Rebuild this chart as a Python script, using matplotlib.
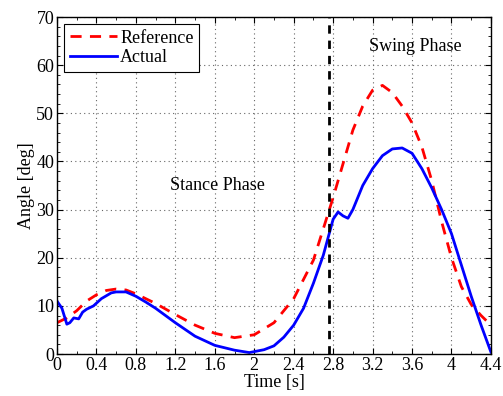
import numpy as np
import matplotlib
matplotlib.use("Agg")
import matplotlib.pyplot as plt
from matplotlib.ticker import MultipleLocator, FuncFormatter

plt.rcParams['font.family'] = ['Liberation Serif', 'DejaVu Serif']

# reference trajectory
t_ref = [0, 0.1, 0.2, 0.3, 0.4, 0.5, 0.6, 0.7, 0.8, 1.0, 1.2, 1.4, 1.6, 1.8,
         2.0, 2.2, 2.4, 2.6, 2.8, 3.0, 3.1, 3.2, 3.3, 3.4, 3.5, 3.6, 3.7,
         3.8, 3.9, 4.0, 4.1, 4.2, 4.3, 4.4]
ang_ref = [6.5, 7.5, 9.0, 11.0, 12.3, 13.2, 13.5, 13.3, 12.5, 10.5, 8.2, 6.0,
           4.3, 3.4, 4.0, 6.5, 11.5, 19.5, 32.5, 46.5, 51.5, 54.8, 55.8, 54.3,
           51.5, 48.0, 43.0, 36.0, 27.5, 20.0, 14.0, 10.3, 8.0, 6.0]

# measured trajectory
t_act = [0, 0.05, 0.1, 0.13, 0.17, 0.22, 0.26, 0.3, 0.37, 0.45, 0.55, 0.6,
         0.7, 0.8, 0.9, 1.0, 1.2, 1.4, 1.6, 1.8, 1.95, 2.1, 2.2, 2.3, 2.4,
         2.5, 2.6, 2.7, 2.8, 2.85, 2.9, 2.95, 3.0, 3.1, 3.2, 3.3, 3.4, 3.5,
         3.6, 3.7, 3.8, 3.9, 4.0, 4.1, 4.2, 4.3, 4.4]
ang_act = [11.0, 9.5, 6.2, 6.5, 7.5, 7.3, 8.7, 9.3, 10.0, 11.5, 12.7, 12.9,
           12.9, 12.0, 10.8, 9.5, 6.5, 3.7, 1.8, 0.8, 0.3, 0.9, 1.7, 3.5, 6.0,
           9.5, 14.7, 20.5, 28.0, 29.5, 28.7, 28.2, 30.0, 35.0, 38.5, 41.2,
           42.6, 42.8, 41.7, 38.5, 34.5, 30.0, 25.0, 18.5, 12.0, 6.0, 0.4]

t_switch = 2.76

fig = plt.figure(figsize=(5.03, 3.96), dpi=100)
ax = fig.add_axes([0.1133, 0.106, 0.8627, 0.851])

ax.plot(t_ref, ang_ref, 'r--', lw=2, dashes=(4, 3), label='Reference')
ax.plot(t_act, ang_act, 'b-', lw=2, label='Actual')
ax.axvline(t_switch, color='k', ls='--', lw=2, dashes=(3, 2.5))

ax.text(1.63, 35, 'Stance Phase', ha='center', va='center', fontsize=13)
ax.text(3.63, 63.8, 'Swing Phase', ha='center', va='center', fontsize=13)

ax.set_xlim(0, 4.4)
ax.set_ylim(0, 70)
ax.xaxis.set_major_locator(MultipleLocator(0.4))
ax.xaxis.set_minor_locator(MultipleLocator(0.2))
ax.yaxis.set_major_locator(MultipleLocator(10))
ax.yaxis.set_minor_locator(MultipleLocator(2))
ax.xaxis.set_major_formatter(FuncFormatter(lambda v, p: '%g' % round(v, 1)))
ax.tick_params(which='both', direction='in', top=True, right=True, labelsize=13, pad=2)
ax.tick_params(which='major', length=4, width=0.8)
ax.tick_params(which='minor', length=2, width=0.6)
ax.grid(True, which='major', ls=(0, (1, 3)), color='0.4', lw=0.8)

ax.set_xlabel('Time [s]', fontsize=13, labelpad=0)
ax.set_ylabel('Angle [deg]', fontsize=13, labelpad=1)

for s in ax.spines.values():
    s.set_linewidth(1.0)

leg = ax.legend(loc='upper left', fontsize=13, fancybox=False, framealpha=1,
                edgecolor='k', handlelength=2.6, borderpad=0.3,
                labelspacing=0.15, handletextpad=0.2, borderaxespad=0.4)
leg.get_frame().set_linewidth(0.8)

fig.savefig('out.png', dpi=100)
